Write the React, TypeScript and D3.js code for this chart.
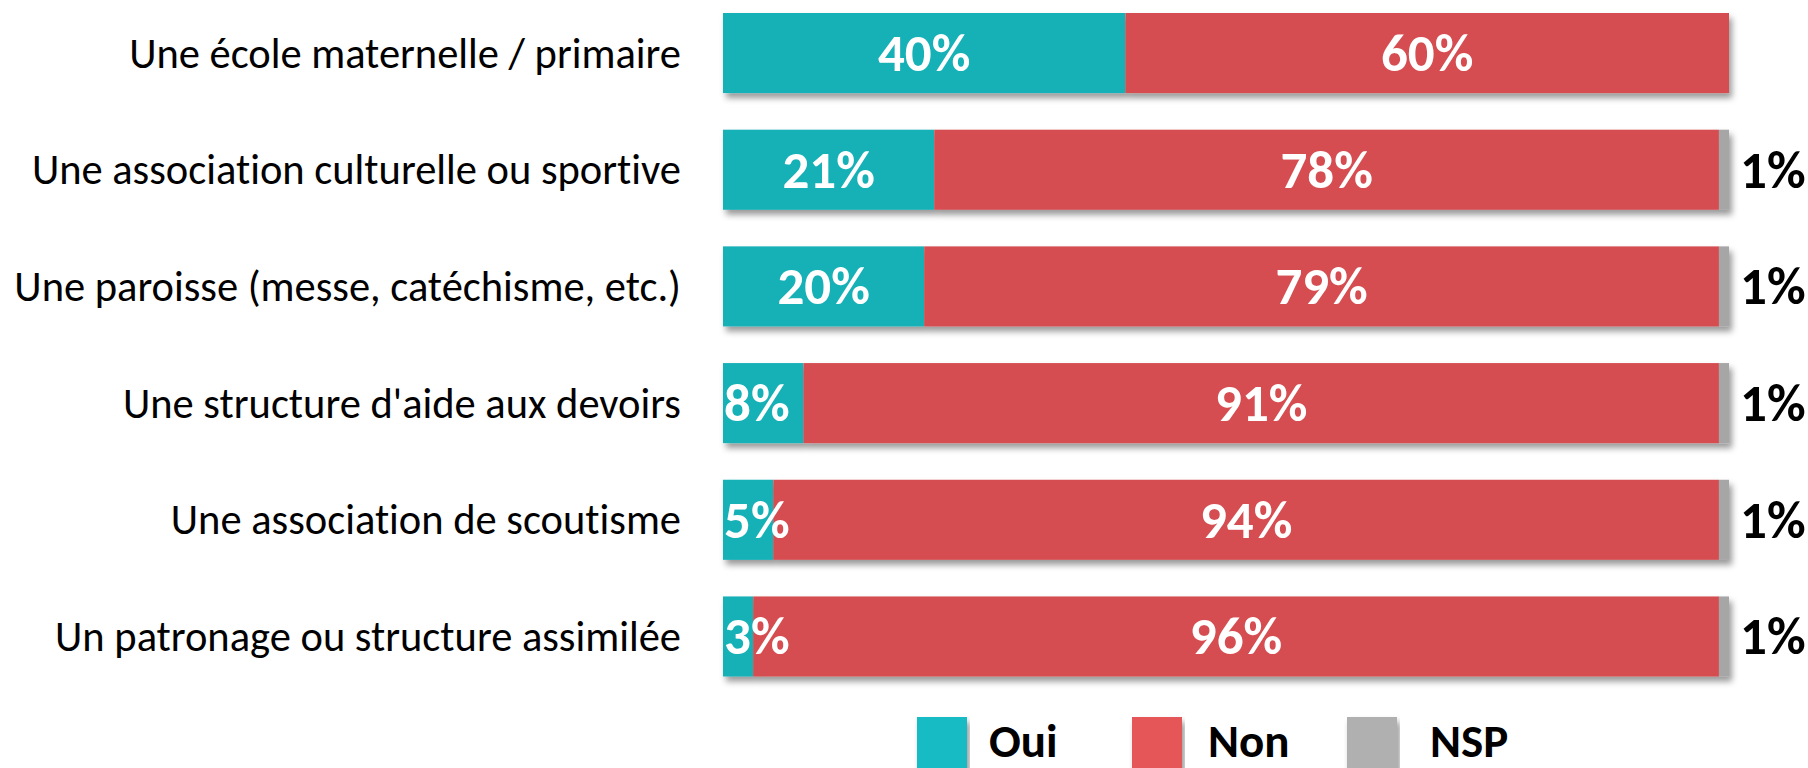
import React from "react";
import * as d3 from "d3";

const categories = [
  "Une école maternelle / primaire",
  "Une association culturelle ou sportive",
  "Une paroisse (messe, catéchisme, etc.)",
  "Une structure d'aide aux devoirs",
  "Une association de scoutisme",
  "Un patronage ou structure assimilée",
];
const oui = [40, 21, 20, 8, 5, 3];
const non = [60, 78, 79, 91, 94, 96];
const nsp = [0, 1, 1, 1, 1, 1];
const seriesNames = ["Oui", "Non", "NSP"];

const W = 1808;
const H = 768;
const barColors = ["#14B0B7", "#D64E51", "#A6A6A6"];
const legendColors = ["#18BBC4", "#E55758", "#B0B0B0"];
const FONT = "Carlito, Calibri, Lato, 'Open Sans', sans-serif";
const legendSquareX = [917, 1132, 1347];
const legendTextX = [989, 1208, 1430];

export default function App() {
  const x = d3.scaleLinear().domain([0, 100]).range([723, 1729]);
  const y = d3
    .scaleBand<string>()
    .domain(categories)
    .range([13, 676.5])
    .paddingInner(0.314)
    .paddingOuter(0);
  const bw = y.bandwidth();
  const series = [oui, non, nsp];

  return (
    <svg
      width={W}
      height={H}
      style={{ position: "absolute", left: 0, top: 0, background: "#fff", fontVariantLigatures: "none" }}
      fontFamily={FONT}
    >
      <defs>
        <filter id="sh" x="-5%" y="-20%" width="110%" height="160%">
          <feDropShadow dx="3" dy="5" stdDeviation="3" floodColor="#000" floodOpacity="0.4" />
        </filter>
      </defs>
      {categories.map((c, i) => {
        const top = y(c)!;
        const cy = top + bw / 2;
        let acc = 0;
        const segs = series.map((s, k) => {
          const v = s[i];
          const x0 = x(acc);
          acc += v;
          const x1 = x(acc);
          return { k, v, x0, x1 };
        });
        return (
          <g key={c}>
            <text
              x={681}
              y={cy}
              textAnchor="end"
              dominantBaseline="central"
              fontSize={42.5}
              fill="#000"
            >
              {c}
            </text>
            <g filter="url(#sh)">
              {segs.map((s) =>
                s.v > 0 ? (
                  <rect
                    key={s.k}
                    x={s.x0}
                    y={top}
                    width={s.x1 - s.x0}
                    height={bw}
                    fill={barColors[s.k]}
                  />
                ) : null
              )}
            </g>
            {segs.slice(0, 2).map((s) => {
              const w = s.x1 - s.x0;
              const narrow = w < 90;
              return (
                <text
                  key={"l" + s.k}
                  x={narrow ? s.x0 + 1 : (s.x0 + s.x1) / 2}
                  y={cy}
                  textAnchor={narrow ? "start" : "middle"}
                  dominantBaseline="central"
                  fontSize={53}
                  fontWeight="bold"
                  fill="#fff"
                >
                  {s.v}%
                </text>
              );
            })}
            {nsp[i] > 0 ? (
              <text
                x={x(100) + 11}
                y={cy}
                dominantBaseline="central"
                fontSize={53}
                fontWeight="bold"
                fill="#000"
              >
                {nsp[i]}%
              </text>
            ) : null}
          </g>
        );
      })}
      {seriesNames.map((n, k) => (
        <g key={n}>
          <rect x={legendSquareX[k]} y={717} width={50} height={56} fill={legendColors[k]} filter="url(#sh)" />
          <text x={legendTextX[k]} y={757} fontSize={47} fontWeight="bold" fill="#000">
            {n}
          </text>
        </g>
      ))}
    </svg>
  );
}
